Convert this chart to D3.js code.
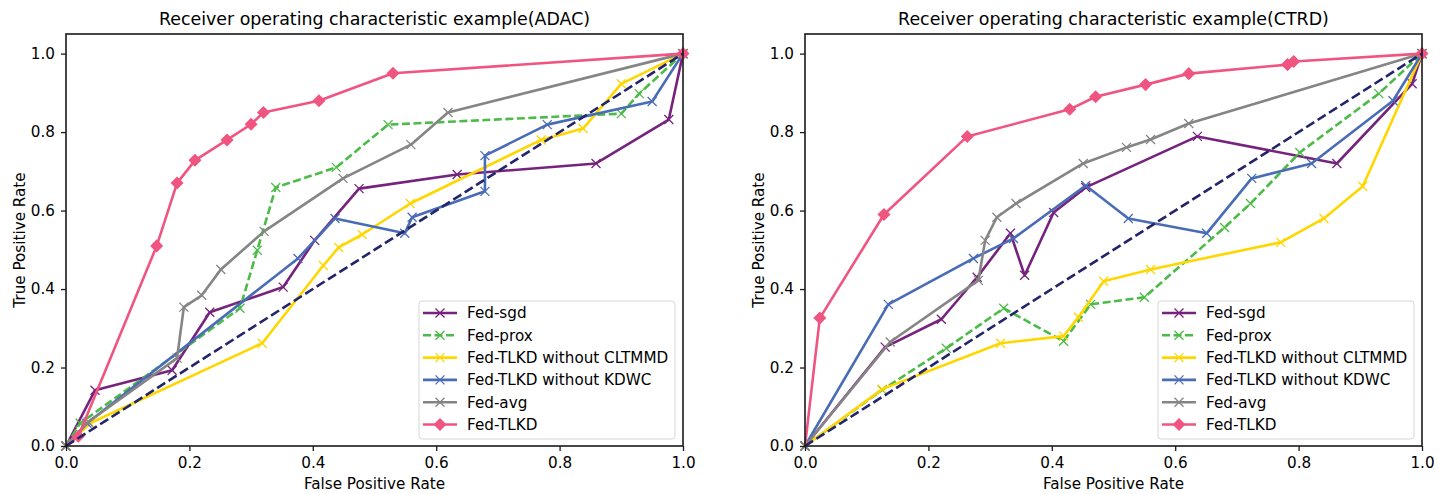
<!DOCTYPE html>
<html>
<head>
<meta charset="utf-8">
<script src="https://cdn.jsdelivr.net/npm/d3@7"></script>
<style>
  body { margin: 0; background: #fff; }
  text { font-family: "DejaVu Sans", sans-serif; fill: #000; }
</style>
</head>
<body>
<div class="container"></div>
<script>
// series names, styles by index
var seriesNames = ["Fed-sgd", "Fed-prox", "Fed-TLKD without CLTMMD", "Fed-TLKD without KDWC", "Fed-avg", "Fed-TLKD"];
var colors = ["#76237e", "#4cbb47", "#ffd700", "#4a6cb6", "#858585", "#ef5580"];
var tickValues = [0.0, 0.2, 0.4, 0.6, 0.8, 1.0];

// ADAC: [fpr, tpr] pairs
var adacSgd = [[0,0],[0.047,0.142],[0.172,0.193],[0.233,0.341],[0.352,0.405],[0.403,0.524],[0.475,0.656],[0.634,0.692],[0.859,0.72],[0.977,0.832],[1,1]];
var adacProx = [[0,0],[0.023,0.058],[0.282,0.351],[0.31,0.499],[0.34,0.659],[0.438,0.71],[0.522,0.819],[0.9,0.847],[0.929,0.898],[1,1]];
var adacNoCltmmd = [[0,0],[0.039,0.058],[0.318,0.262],[0.417,0.46],[0.442,0.506],[0.48,0.539],[0.558,0.618],[0.77,0.78],[0.838,0.809],[0.9,0.923],[1,1]];
var adacNoKdwc = [[0,0],[0.034,0.058],[0.376,0.478],[0.436,0.58],[0.549,0.542],[0.561,0.583],[0.679,0.649],[0.679,0.74],[0.78,0.819],[0.95,0.878],[1,1]];
var adacAvg = [[0,0],[0.036,0.061],[0.18,0.224],[0.191,0.354],[0.22,0.384],[0.251,0.45],[0.321,0.547],[0.449,0.682],[0.559,0.768],[0.619,0.85],[1,1]];
var adacTlkd = [[0,0],[0.02,0.025],[0.147,0.51],[0.18,0.67],[0.209,0.728],[0.261,0.78],[0.30,0.82],[0.32,0.85],[0.41,0.88],[0.53,0.95],[1,1]];

// CTRD
var ctrdSgd = [[0,0],[0.13,0.252],[0.221,0.323],[0.279,0.43],[0.333,0.542],[0.356,0.435],[0.403,0.595],[0.455,0.659],[0.636,0.789],[0.862,0.72],[0.984,0.923],[1,1]];
var ctrdProx = [[0,0],[0.125,0.143],[0.229,0.249],[0.322,0.351],[0.419,0.267],[0.463,0.361],[0.55,0.379],[0.68,0.557],[0.722,0.618],[0.802,0.748],[0.93,0.898],[1,1]];
var ctrdNoCltmmd = [[0,0],[0.125,0.145],[0.317,0.262],[0.419,0.28],[0.443,0.328],[0.484,0.42],[0.56,0.45],[0.771,0.519],[0.841,0.58],[0.904,0.662],[1,1]];
var ctrdNoKdwc = [[0,0],[0.135,0.361],[0.273,0.478],[0.338,0.529],[0.455,0.664],[0.524,0.58],[0.651,0.542],[0.724,0.682],[0.821,0.72],[0.953,0.88],[1,1]];
var ctrdAvg = [[0,0],[0.138,0.265],[0.281,0.422],[0.292,0.524],[0.311,0.583],[0.342,0.618],[0.451,0.72],[0.521,0.761],[0.56,0.781],[0.622,0.822],[1,1]];
var ctrdTlkd = [[0,0],[0.024,0.326],[0.128,0.59],[0.263,0.789],[0.429,0.858],[0.471,0.89],[0.552,0.921],[0.622,0.949],[0.782,0.972],[0.792,0.98],[1,1]];

var chanceLine = [[0,0],[1,1]];

var width = 1448, height = 494;
var svg = d3.select(".container").append("svg")
    .attr("width", width)
    .attr("height", height);

var diamond = d3.symbol().type(d3.symbolSquare).size(85);
var fs = "15.2px";

function drawPanel(left, title, seriesData) {
    var w = 617, top = 34, bottom = 446;
    var g = svg.append("g").attr("transform", "translate(" + left + ",0)");

    var x = d3.scaleLinear().domain([0, 1]).range([0, w]);
    var y = d3.scaleLinear().domain([0, 1.05]).range([bottom, top]);

    var line = d3.line()
        .x(function(d) { return x(d[0]); })
        .y(function(d) { return y(d[1]); });

    seriesData.forEach(function(data, i) {
        g.append("path")
            .datum(data)
            .attr("fill", "none")
            .attr("stroke", colors[i])
            .attr("stroke-width", 2.6)
            .attr("stroke-linejoin", "round")
            .attr("stroke-dasharray", i == 1 ? "8,3.5" : null)
            .attr("d", line);

        if (i == 5) {
            g.selectAll(".dm")
                .data(data.slice(1))
                .enter()
                .append("path")
                .attr("d", diamond)
                .attr("transform", function(d) { return "translate(" + x(d[0]) + "," + y(d[1]) + ") rotate(45)"; })
                .attr("fill", colors[i]);
        } else {
            g.selectAll(".mk" + i)
                .data(data)
                .enter()
                .append("path")
                .attr("d", "M-4.5,-4.5L4.5,4.5M-4.5,4.5L4.5,-4.5")
                .attr("transform", function(d) { return "translate(" + x(d[0]) + "," + y(d[1]) + ")"; })
                .attr("stroke", colors[i])
                .attr("stroke-width", 1.3)
                .attr("fill", "none");
        }
    });

    g.append("path")
        .datum(chanceLine)
        .attr("fill", "none")
        .attr("stroke", "#232469")
        .attr("stroke-width", 2.6)
        .attr("stroke-dasharray", "9.5,4")
        .attr("d", line);

    // frame
    g.append("rect")
        .attr("x", 0).attr("y", top)
        .attr("width", w).attr("height", bottom - top)
        .attr("fill", "none")
        .attr("stroke", "#1a1a1a")
        .attr("stroke-width", 1.6);

    var xAxis = g.append("g")
        .attr("transform", "translate(0," + bottom + ")")
        .call(d3.axisBottom(x).tickValues(tickValues).tickFormat(d3.format(".1f")).tickSize(5).tickPadding(6));
    var yAxis = g.append("g")
        .call(d3.axisLeft(y).tickValues(tickValues).tickFormat(d3.format(".1f")).tickSize(5).tickPadding(6));
    [xAxis, yAxis].forEach(function(a) {
        a.select(".domain").remove();
        a.selectAll("line").attr("stroke", "#1a1a1a").attr("stroke-width", 1.3);
        a.selectAll("text").style("font-size", fs).style("font-family", "DejaVu Sans").attr("fill", "#000");
    });

    g.append("text")
        .attr("x", w / 2).attr("y", 25)
        .attr("text-anchor", "middle")
        .style("font-size", "17.4px")
        .text(title);
    g.append("text")
        .attr("x", w / 2).attr("y", 489)
        .attr("text-anchor", "middle")
        .style("font-size", fs)
        .text("False Positive Rate");
    g.append("text")
        .attr("transform", "translate(-41," + ((top + bottom) / 2) + ") rotate(-90)")
        .attr("text-anchor", "middle")
        .style("font-size", fs)
        .text("True Positive Rate");

    // legend
    var lg = g.append("g").attr("transform", "translate(" + (w - 264) + ",301)");
    lg.append("rect")
        .attr("width", 256).attr("height", 138)
        .attr("rx", 3)
        .attr("fill", "rgba(255,255,255,0.8)")
        .attr("stroke", "#d6d6d6");
    seriesNames.forEach(function(name, i) {
        var ry = 12 + i * 22.3;
        lg.append("line")
            .attr("x1", 4).attr("x2", 38)
            .attr("y1", ry).attr("y2", ry)
            .attr("stroke", colors[i])
            .attr("stroke-width", 2.6)
            .attr("stroke-dasharray", i == 1 ? "8,3.5" : null);
        if (i == 5) {
            lg.append("path")
                .attr("d", diamond)
                .attr("transform", "translate(21," + ry + ") rotate(45)")
                .attr("fill", colors[i]);
        } else {
            lg.append("path")
                .attr("d", "M-4.5,-4.5L4.5,4.5M-4.5,4.5L4.5,-4.5")
                .attr("transform", "translate(21," + ry + ")")
                .attr("stroke", colors[i])
                .attr("stroke-width", 1.3);
        }
        lg.append("text")
            .attr("x", 48).attr("y", ry + 5.3)
            .style("font-size", fs)
            .text(name);
    });
}

drawPanel(66, "Receiver operating characteristic example(ADAC)",
    [adacSgd, adacProx, adacNoCltmmd, adacNoKdwc, adacAvg, adacTlkd]);
drawPanel(805, "Receiver operating characteristic example(CTRD)",
    [ctrdSgd, ctrdProx, ctrdNoCltmmd, ctrdNoKdwc, ctrdAvg, ctrdTlkd]);
</script>
</body>
</html>
